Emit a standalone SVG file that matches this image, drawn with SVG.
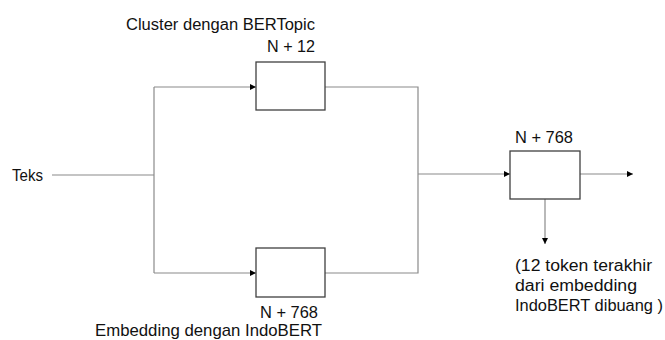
<svg xmlns="http://www.w3.org/2000/svg" width="665" height="340" viewBox="0 0 665 340">
<defs>
<marker id="ah" markerWidth="6" markerHeight="6" refX="6" refY="3" orient="auto" markerUnits="userSpaceOnUse">
<path d="M0,0 L6,3 L0,6 Z" fill="#000"/>
</marker>
<style>
.box{fill:#fff;stroke:#404040;stroke-width:1.3}
.ln{fill:none;stroke:#8a8a8a;stroke-width:1.2}
.ar{fill:none;stroke:#8a8a8a;stroke-width:1.2;marker-end:url(#ah)}
text{font-family:"Liberation Sans",Arial,sans-serif;font-size:16px;fill:#111}
.lg{font-size:17px}
</style>
</defs>
<rect width="665" height="340" fill="#fff"/>
<g id="connectors">
<path class="ln" d="M52,175 H154"/>
<path class="ln" d="M154,87 V273"/>
<path class="ar" d="M154,87 H256"/>
<path class="ar" d="M154,273 H256"/>
<path class="ln" d="M325,87 H418 V273 H325"/>
<path class="ar" d="M418,174 H510"/>
<path class="ar" d="M580,174 H633"/>
<path class="ar" d="M545,199 V244"/>
</g>
<g id="input"><text x="12" y="181" textLength="31" lengthAdjust="spacingAndGlyphs">Teks</text></g>
<g id="bertopic">
<text x="126" y="30" textLength="189" lengthAdjust="spacingAndGlyphs">Cluster dengan BERTopic</text>
<text x="267" y="52" textLength="48" lengthAdjust="spacingAndGlyphs">N + 12</text>
<rect class="box" x="256" y="62" width="69" height="48"/>
</g>
<g id="indobert">
<rect class="box" x="256" y="248" width="69" height="49"/>
<text class="lg" x="260" y="318" textLength="58" lengthAdjust="spacingAndGlyphs">N + 768</text>
<text class="lg" x="95" y="336" textLength="227" lengthAdjust="spacingAndGlyphs">Embedding dengan IndoBERT</text>
</g>
<g id="concat">
<text x="515" y="143" textLength="58" lengthAdjust="spacingAndGlyphs">N + 768</text>
<rect class="box" x="510" y="151" width="70" height="48"/>
</g>
<g id="note">
<text x="515" y="271" textLength="137" lengthAdjust="spacingAndGlyphs">(12 token terakhir</text>
<text x="515" y="291" textLength="122" lengthAdjust="spacingAndGlyphs">dari embedding</text>
<text x="515" y="311" textLength="148" lengthAdjust="spacingAndGlyphs">IndoBERT dibuang )</text>
</g>
</svg>
